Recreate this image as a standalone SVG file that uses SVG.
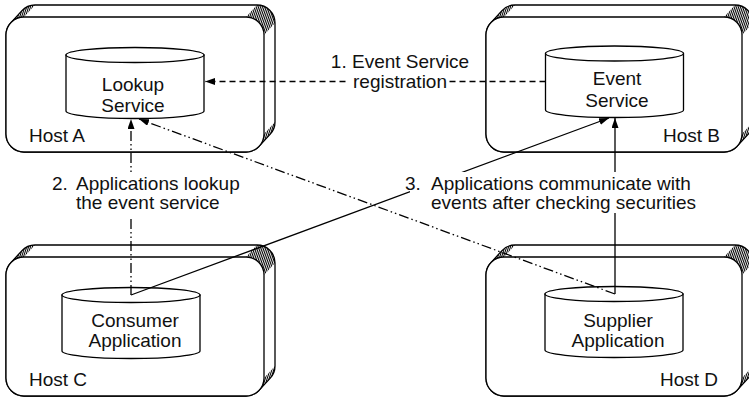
<svg xmlns="http://www.w3.org/2000/svg" width="749" height="399" viewBox="0 0 749 399">
<style>
.face{fill:#fff;stroke:#000;stroke-width:1.3;stroke-linejoin:round}
.hatch{fill:url(#hatch);stroke:none}
.ln{fill:none;stroke:#000;stroke-width:1.3}
.dash{stroke-dasharray:6 4}
.dd{stroke-dasharray:10 3 1.5 3 1.5 3}
.bg{fill:#fff;stroke:none}
text{font-family:"Liberation Sans",Arial,Helvetica,sans-serif;font-size:19px;fill:#111}
.c{text-anchor:middle}
.e{text-anchor:end}
</style>
<defs>
<pattern id="hatch" patternUnits="userSpaceOnUse" width="2" height="4" patternTransform="rotate(-20)">
<rect x="0" y="0" width="1.1" height="4" fill="#000"/>
</pattern>
<marker id="arr" markerUnits="userSpaceOnUse" markerWidth="11" markerHeight="8" refX="10" refY="3.5" orient="auto">
<path d="M0,0 L10,3.5 L0,7 Z" fill="#000"/>
</marker>
</defs>

<g id="hostA" transform="translate(6,17)">
<path class="face" d="M 4.73 5.83 L 15.73 -6.17 A 18 18 0 0 1 29 -12 L 251 -12 A 18 18 0 0 1 269 6 L 269 105 A 18 18 0 0 1 264.27 117.17 L 253.27 129.17 A 18 18 0 0 1 240 135 L 18 135 A 18 18 0 0 1 0 117 L 0 18 A 18 18 0 0 1 4.73 5.83 Z"/>
<path class="hatch" d="M 4.73 5.83 A 18 18 0 0 1 18 0 L 29 -12 A 18 18 0 0 0 15.73 -6.17 Z"/>
<path class="hatch" d="M 240 0 A 18 18 0 0 1 258 18 L 269 6 A 18 18 0 0 0 251 -12 Z"/>
<path class="hatch" d="M 258 117 A 18 18 0 0 1 253.27 129.17 L 264.27 117.17 A 18 18 0 0 0 269 105 Z"/>
<rect class="face" x="0" y="0" width="258" height="135" rx="18"/>
<text x="23" y="125">Host A</text>
</g>

<g id="hostB" transform="translate(486,17)">
<path class="face" d="M 4.73 5.83 L 15.73 -6.17 A 18 18 0 0 1 29 -12 L 249 -12 A 18 18 0 0 1 267 6 L 267 105 A 18 18 0 0 1 262.27 117.17 L 251.27 129.17 A 18 18 0 0 1 238 135 L 18 135 A 18 18 0 0 1 0 117 L 0 18 A 18 18 0 0 1 4.73 5.83 Z"/>
<path class="hatch" d="M 4.73 5.83 A 18 18 0 0 1 18 0 L 29 -12 A 18 18 0 0 0 15.73 -6.17 Z"/>
<path class="hatch" d="M 238 0 A 18 18 0 0 1 256 18 L 267 6 A 18 18 0 0 0 249 -12 Z"/>
<path class="hatch" d="M 256 117 A 18 18 0 0 1 251.27 129.17 L 262.27 117.17 A 18 18 0 0 0 267 105 Z"/>
<rect class="face" x="0" y="0" width="256" height="135" rx="18"/>
<text class="e" x="234" y="125">Host B</text>
</g>

<g id="hostC" transform="translate(6,257)">
<path class="face" d="M 4.73 5.83 L 15.73 -6.17 A 18 18 0 0 1 29 -12 L 251 -12 A 18 18 0 0 1 269 6 L 269 109 A 18 18 0 0 1 264.27 121.17 L 253.27 133.17 A 18 18 0 0 1 240 139 L 18 139 A 18 18 0 0 1 0 121 L 0 18 A 18 18 0 0 1 4.73 5.83 Z"/>
<path class="hatch" d="M 4.73 5.83 A 18 18 0 0 1 18 0 L 29 -12 A 18 18 0 0 0 15.73 -6.17 Z"/>
<path class="hatch" d="M 240 0 A 18 18 0 0 1 258 18 L 269 6 A 18 18 0 0 0 251 -12 Z"/>
<path class="hatch" d="M 258 121 A 18 18 0 0 1 253.27 133.17 L 264.27 121.17 A 18 18 0 0 0 269 109 Z"/>
<rect class="face" x="0" y="0" width="258" height="139" rx="18"/>
<text x="23" y="129">Host C</text>
</g>

<g id="hostD" transform="translate(486,257)">
<path class="face" d="M 4.73 5.83 L 15.73 -6.17 A 18 18 0 0 1 29 -12 L 249 -12 A 18 18 0 0 1 267 6 L 267 109 A 18 18 0 0 1 262.27 121.17 L 251.27 133.17 A 18 18 0 0 1 238 139 L 18 139 A 18 18 0 0 1 0 121 L 0 18 A 18 18 0 0 1 4.73 5.83 Z"/>
<path class="hatch" d="M 4.73 5.83 A 18 18 0 0 1 18 0 L 29 -12 A 18 18 0 0 0 15.73 -6.17 Z"/>
<path class="hatch" d="M 238 0 A 18 18 0 0 1 256 18 L 267 6 A 18 18 0 0 0 249 -12 Z"/>
<path class="hatch" d="M 256 121 A 18 18 0 0 1 251.27 133.17 L 262.27 121.17 A 18 18 0 0 0 267 109 Z"/>
<rect class="face" x="0" y="0" width="256" height="139" rx="18"/>
<text class="e" x="232" y="129">Host D</text>
</g>

<g id="lookupService">
<path class="face" d="M 66 55 L 66 111 A 69 7.5 0 0 0 204 111 L 204 55 Z"/>
<ellipse class="face" cx="135" cy="55" rx="69" ry="7.5"/>
<text class="c" x="133" y="91">Lookup</text>
<text class="c" x="133" y="112">Service</text>
</g>

<g id="eventService">
<path class="face" d="M 545.5 53.5 L 545.5 110 A 69 7.5 0 0 0 683.5 110 L 683.5 53.5 Z"/>
<ellipse class="face" cx="614.5" cy="53.5" rx="69" ry="7.5"/>
<text class="c" x="617" y="85">Event</text>
<text class="c" x="617" y="107">Service</text>
</g>

<g id="consumerApplication">
<path class="face" d="M 62 295 L 62 351 A 69 7.5 0 0 0 200 351 L 200 295 Z"/>
<ellipse class="face" cx="131" cy="295" rx="69" ry="7.5"/>
<text class="c" x="135" y="327">Consumer</text>
<text class="c" x="135" y="347">Application</text>
</g>

<g id="supplierApplication">
<path class="face" d="M 545 294 L 545 350 A 69 7.5 0 0 0 683 350 L 683 294 Z"/>
<ellipse class="face" cx="614" cy="294" rx="69" ry="7.5"/>
<text class="c" x="618" y="327">Supplier</text>
<text class="c" x="618" y="347">Application</text>
</g>

<g id="connectors">
<line class="ln dash" x1="545.5" y1="81.5" x2="205" y2="81.5" marker-end="url(#arr)"/>
<line class="ln dd" x1="131" y1="295" x2="131" y2="119" marker-end="url(#arr)"/>
<line class="ln dd" x1="615" y1="294" x2="139" y2="119" marker-end="url(#arr)"/>
<line class="ln" x1="131" y1="295" x2="609" y2="118" marker-end="url(#arr)"/>
<line class="ln" x1="615" y1="294" x2="615" y2="118" marker-end="url(#arr)"/>
</g>

<g id="labels">
<rect class="bg" x="349" y="74" width="100" height="18"/>
<text class="c" x="400" y="67.5">1. Event Service</text>
<text class="c" x="400" y="87.5">registration</text>
<rect class="bg" x="50" y="172" width="200" height="46"/>
<text x="52" y="189.5">2.</text>
<text x="76" y="189.5">Applications lookup</text>
<text x="76" y="209">the event service</text>
<rect class="bg" x="410" y="172" width="302" height="41"/>
<text x="405" y="189.5">3.</text>
<text x="431" y="189.5">Applications communicate with</text>
<text x="431" y="209">events after checking securities</text>
</g>
</svg>
